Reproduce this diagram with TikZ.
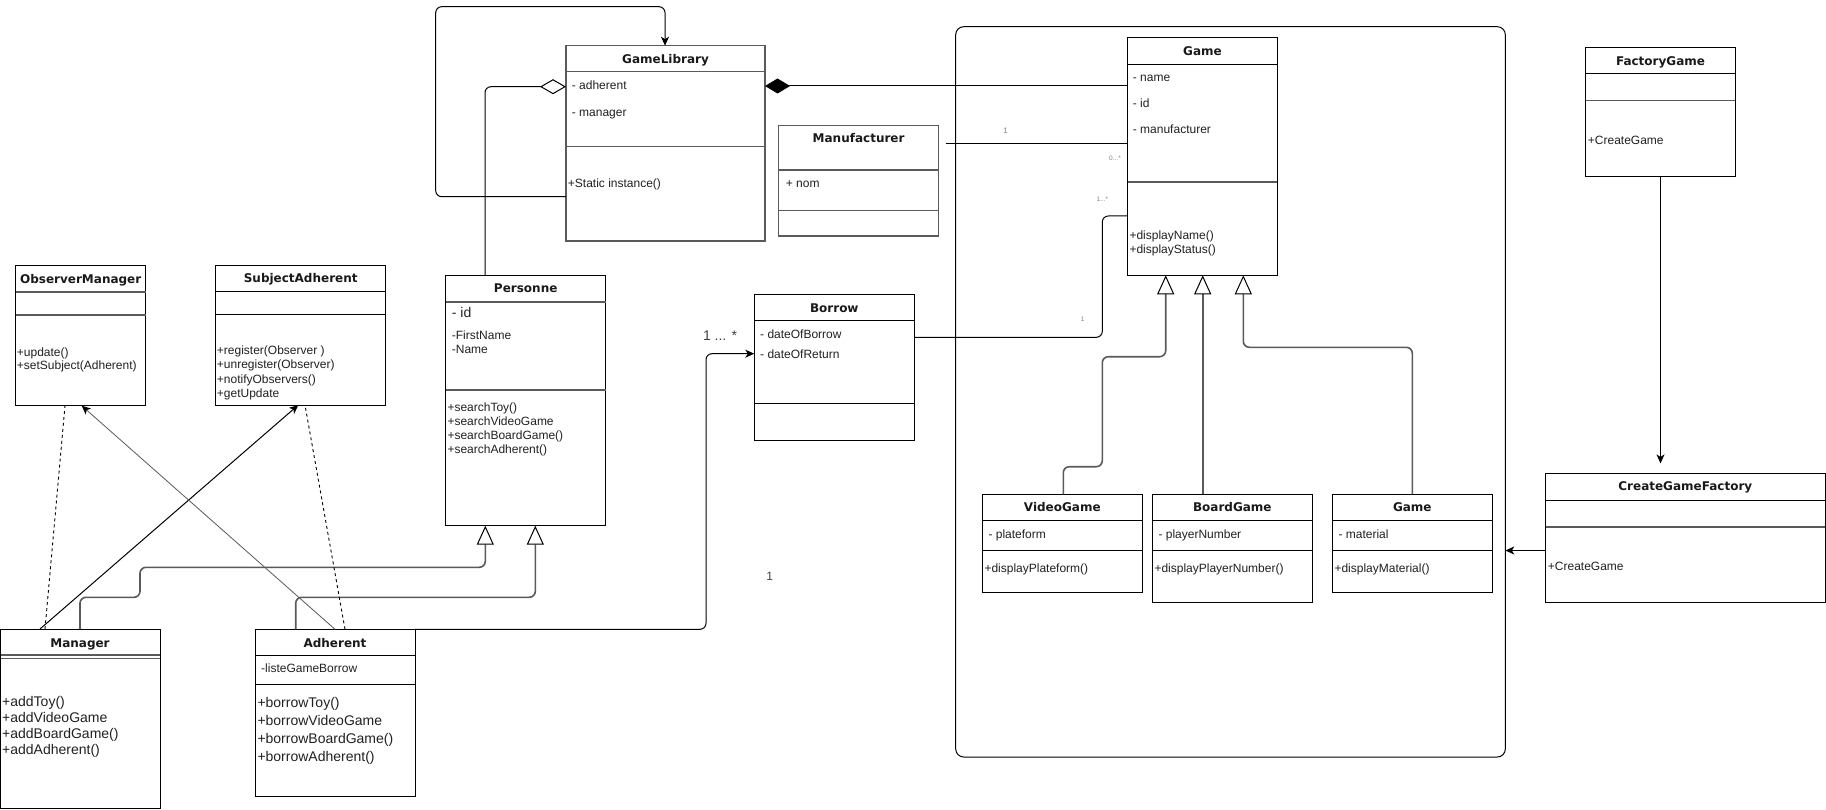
\documentclass[tikz,border=0pt]{standalone}
\usepackage{fontspec}
\setmainfont{Liberation Sans}
\newfontfamily\ttlfont{DejaVu Sans}
\usetikzlibrary{arrows.meta,calc}
\definecolor{txtc}{HTML}{202020}
\definecolor{gline}{HTML}{5A5A5A}
\newcommand{\umlbox}[6][clsbox]{\node[#1, minimum width=#5pt, minimum height=#6pt] (#2) at (#3,#4) {};}
\newcommand{\sep}[3][sepl]{\draw[#1] (#2.west |- 0,#3) -- (#2.east |- 0,#3);}
\newcommand{\tl}[4]{\node[txt, anchor=base west] (#1) at (#2,#3+4.3) {#4};}
\newcommand{\tb}[4]{\node[bigtxt, anchor=base west] (#1) at (#2,#3+5) {#4};}
\newcommand{\ttl}[4]{\node[ttl, anchor=base] (#1) at (#2,#3+4.4) {#4};}
\begin{document}
\begin{tikzpicture}[x=1pt,y=-1pt,
  clsbox/.style={draw=black, line width=1pt, anchor=north west, inner sep=0pt, outer sep=0pt},
  clsgrey/.style={clsbox, draw=gline, line width=1.4pt},
  ctbox/.style={draw=black, line width=1pt, rounded corners=8pt, anchor=north west, inner sep=0pt, outer sep=0pt},
  sepl/.style={draw=black, line width=1pt},
  gsepl/.style={draw=gline, line width=1.6pt},
  txt/.style={font=\fontsize{12}{14}\selectfont, text=txtc, inner sep=0pt},
  bigtxt/.style={font=\fontsize{14}{16}\selectfont, text=txtc, inner sep=0pt},
  ttl/.style={font=\ttlfont\bfseries\fontsize{12}{14}\selectfont, text=black!90, inner sep=0pt},
  tinylab/.style={font=\fontsize{6.5}{7}\selectfont, text=black!50, inner sep=0pt},
  midlab/.style={font=\fontsize{12}{14}\selectfont, text=black!75, inner sep=0pt},
  biglab/.style={font=\fontsize{14}{16}\selectfont, text=black!75, inner sep=0pt},
  conn/.style={draw=black, line width=1pt, rounded corners=6pt},
  arr/.style={conn, -{Stealth[length=9pt,width=8pt,inset=2.5pt]}},
  thinarr/.style={draw=black!65, line width=0.8pt, -{Stealth[length=9pt,width=8pt,inset=2.5pt,color=black]}},
  dashln/.style={draw=black, line width=0.9pt, dashed},
  gen/.style={draw=gline, line width=1.6pt, rounded corners=6pt, -{Triangle[length=19pt,width=17pt,fill=white,color=black,line width=1pt]}},
  aggr/.style={conn, -{Diamond[open,length=26pt,width=15pt,color=black]}},
  compo/.style={conn, -{Diamond[length=25pt,width=15pt]}}
]
\useasboundingbox (0,0) rectangle (1826,810);

% container frame
\node[ctbox, minimum width=549.6pt, minimum height=730.3pt] (CT) at (955.7,26.7) {};

% ---------- class boxes ----------
\umlbox[clsgrey]{GL}{566}{45.7}{199}{195.3}
\sep[gsepl]{GL}{71.7} \sep[gsepl]{GL}{146.7}
\ttl{glt}{665.5}{58.7}{GameLibrary}
\tl{gla}{571.7}{85}{- adherent}
\tl{glb}{571.7}{112}{- manager}
\tl{glc}{567.7}{183}{+Static instance()}

\umlbox[clsgrey]{MF}{778.6}{125.7}{160}{110.3}
\sep[gsepl]{MF}{170} \sep[gsepl]{MF}{210.7}
\ttl{mft}{858.6}{138.3}{Manufacturer}
\tl{mfa}{785.7}{183.7}{+ nom}

\umlbox{G}{1127.7}{37.3}{149.6}{238}
\sep{G}{64.3} \sep[gsepl]{G}{182}
\ttl{gt}{1202.5}{50.7}{Game}
\tl{ga}{1132.7}{77.7}{- name}
\tl{gb}{1132.7}{103.7}{- id}
\tl{gc}{1132.7}{129.7}{- manufacturer}
\tl{gd}{1129.3}{235}{+displayName()}
\tl{ge}{1129.3}{249}{+displayStatus()}

\umlbox{P}{445.7}{275.7}{160}{250}
\sep[gsepl]{P}{302.3} \sep[gsepl]{P}{390}
\ttl{pt}{525.7}{288.3}{Personne}
\tb{pa}{451.7}{312.3}{- id}
\tl{pb}{451.7}{334.7}{-FirstName}
\tl{pc}{451.7}{348.7}{-Name}
\tl{pd}{447.3}{407.3}{+searchToy()}
\tl{pe}{447.3}{421.3}{+searchVideoGame}
\tl{pf}{447.3}{435.3}{+searchBoardGame()}
\tl{pg}{447.3}{449.5}{+searchAdherent()}

\umlbox{B}{754.3}{294.3}{160}{146}
\sep{B}{320.3} \sep{B}{403.7}
\ttl{bt}{834.3}{307.7}{Borrow}
\tl{ba}{760}{333.7}{- dateOfBorrow}
\tl{bb}{760}{353.7}{- dateOfReturn}

\umlbox{OM}{15.7}{265.7}{130}{140}
\sep[gsepl]{OM}{292.3} \sep[gsepl]{OM}{315}
\ttl{omt}{80.7}{279}{ObserverManager}
\tl{oma}{16.7}{351.7}{+update()}
\tl{omb}{16.7}{365.7}{+setSubject(Adherent)}

\umlbox{SA}{215.7}{265.7}{170}{139.3}
\sep{SA}{291.7} \sep{SA}{314.3}
\ttl{sat}{300.7}{278.3}{SubjectAdherent}
\tl{saa}{216.7}{350}{+register(Observer )}
\tl{sab}{216.7}{364.3}{+unregister(Observer)}
\tl{sac}{216.7}{378.7}{+notifyObservers()}
\tl{sad}{216.7}{393}{+getUpdate}

\umlbox{M}{0.5}{629}{159.8}{179.3}
\sep[gsepl]{M}{655} \sep[gsepl]{M}{658.3}
\ttl{mt}{80}{642.7}{Manager}
\tb{ma}{2}{701.7}{+addToy()}
\tb{mb}{2}{717.3}{+addVideoGame}
\tb{mc}{2}{733.3}{+addBoardGame()}
\tb{md}{2}{749.3}{+addAdherent()}

\umlbox{A}{255.7}{629.3}{159.3}{167.4}
\sep{A}{655.7} \sep{A}{684}
\ttl{at}{335}{642.7}{Adherent}
\tl{aa}{261}{668.3}{-listeGameBorrow}
\tb{ab}{257.3}{702.7}{+borrowToy()}
\tb{ac}{257.3}{720.3}{+borrowVideoGame}
\tb{ad}{257.3}{738.3}{+borrowBoardGame()}
\tb{ae}{257.3}{756}{+borrowAdherent()}

\umlbox{VG}{982.3}{494.3}{160}{98}
\sep{VG}{520.3} \sep{VG}{550.3}
\ttl{vgt}{1062.3}{507.3}{VideoGame}
\tl{vga}{988.3}{533.7}{- plateform}
\tl{vgb}{984.3}{567.7}{+displayPlateform()}

\umlbox{BG}{1152.3}{494.3}{160}{108}
\sep{BG}{520.3} \sep{BG}{550.3}
\ttl{bgt}{1232.3}{507.3}{BoardGame}
\tl{bga}{1158.3}{533.7}{- playerNumber}
\tl{bgb}{1154.3}{567.7}{+displayPlayerNumber()}

\umlbox{G2}{1332.3}{494.3}{160}{98}
\sep{G2}{520.3} \sep{G2}{550.3}
\ttl{g2t}{1412.3}{507.3}{Game}
\tl{g2a}{1338.3}{533.7}{- material}
\tl{g2b}{1334.3}{567.7}{+displayMaterial()}

\umlbox{FG}{1585.7}{47.3}{149.6}{129.7}
\sep{FG}{74} \sep[gsepl]{FG}{100.7}
\ttl{fgt}{1660.5}{60.7}{FactoryGame}
\tl{fga}{1587.7}{140.7}{+CreateGame}

\umlbox{CGF}{1545.7}{473.4}{279.3}{129.4}
\sep{CGF}{500.5} \sep[gsepl]{CGF}{526.8}
\ttl{cgft}{1685.3}{486.5}{CreateGameFactory}
\tl{cgfa}{1547.7}{566.3}{+CreateGame}

% ---------- connectors ----------
% GameLibrary self association
\draw[arr] (GL.west |- 0,196.7) -| (435.7,6.7) -| (665,0 |- GL.north);
% aggregation Personne -> GameLibrary
\draw[aggr] (485,0 |- P.north) |- (GL.west |- 0,86.7);
% composition Game -> GameLibrary
\draw[compo] (G.west |- 0,86) -- (GL.east |- 0,86);
% Manufacturer -- Game
\draw[conn] ([xshift=7pt]MF.east |- 0,143.3) -- (G.west |- 0,143.3);
% Borrow -- Game
\draw[conn] (G.west |- 0,216) -| (1102.3,337.3) -- (B.east |- 0,337.3);
% Adherent -> Borrow
\draw[arr] (A.north east) -| (706,353.7) -- (B.west |- 0,353.7);
% generalisations to Personne
\draw[gen] (80,0 |- M.north) |- (140,597.3) |- (485.3,567.3) -- (485.3,0 |- P.south);
\draw[gen] (295.7,0 |- A.north) |- (535.3,597.3) -- (535.3,0 |- P.south);
% observer pattern links
\draw[arr] (40,0 |- M.north) -- (298.3,0 |- SA.south);
\draw[thinarr] (335,0 |- A.north) -- (81.7,0 |- OM.south);
\draw[dashln] (45,0 |- M.north) -- (65,0 |- OM.south);
\draw[dashln] (345,0 |- A.north) -- (305,0 |- SA.south);
% generalisations to Game
\draw[gen] (1063.3,0 |- VG.north) |- (1102.3,466.7) |- (1165.7,356.7) -- (1165.7,0 |- G.south);
\draw[gen] (1202.7,0 |- BG.north) -- (1202.7,0 |- G.south);
\draw[gen] (G2.north) |- (1243.3,347.3) -- (1243.3,0 |- G.south);
% factory
\draw[arr] (FG.south) -- ($(FG.south |- CGF.north)+(0,-10)$);
\draw[arr] (CGF.west |- 0,550.5) -- (CT.east |- 0,550.5);

% ---------- multiplicities ----------
\node[tinylab, font=\fontsize{8}{9}\selectfont] (m1) at (1005.7,131) {1};
\node[tinylab] (m2) at (1115,158.3) {0...*};
\node[tinylab] (m3) at (1102.3,199) {1...*};
\node[tinylab] (m4) at (1082.7,319.3) {1};
\node[biglab] (m5) at (720,336) {1 ... *};
\node[midlab] (m6) at (769.7,576.4) {1};
\end{tikzpicture}
\end{document}
